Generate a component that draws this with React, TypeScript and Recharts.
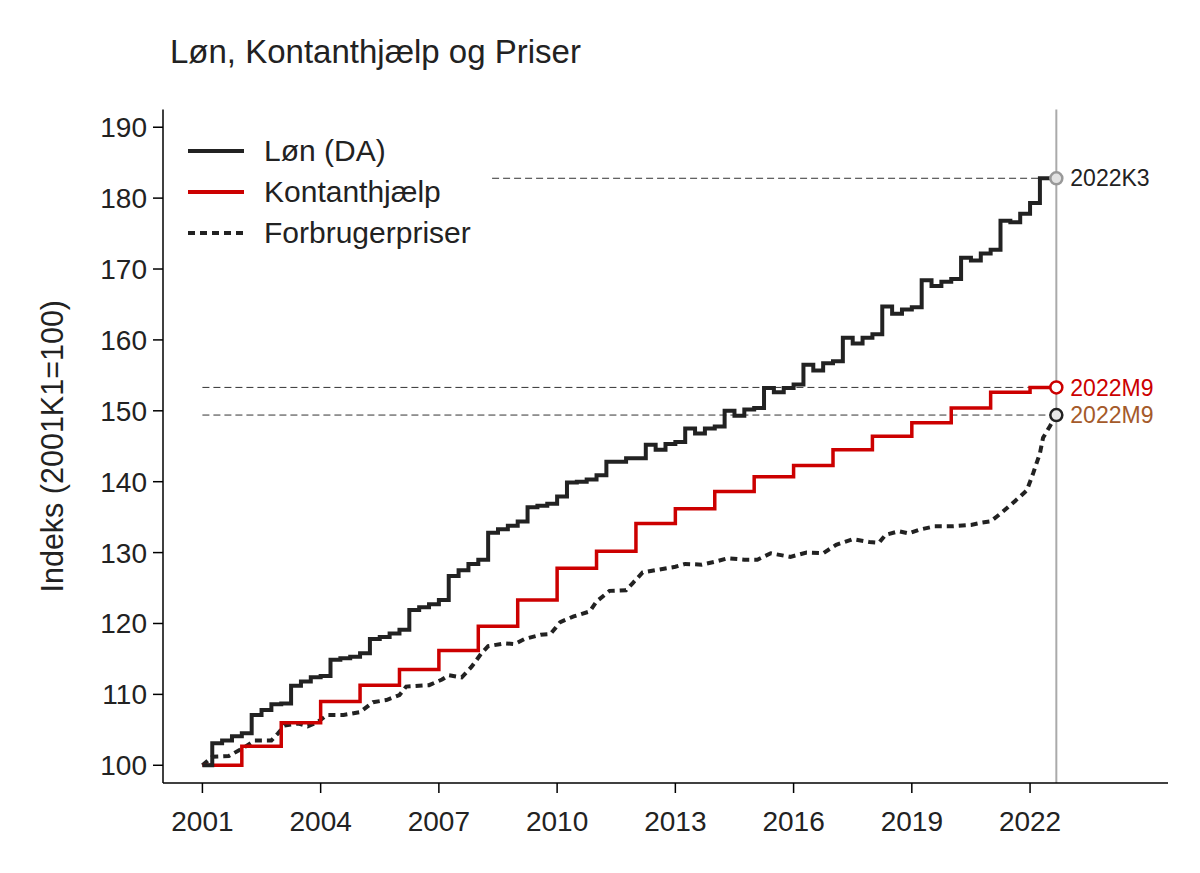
import React from "react";
import {
  LineChart,
  Line,
  XAxis,
  YAxis,
  ReferenceLine,
  ReferenceDot,
  Legend,
} from "recharts";

// Løn (DA), quarterly index 2001K1..2022K3
const LON_VALUES = [
  100.0, 103.1, 103.5, 104.1,
  104.5, 107.1, 107.8, 108.6,
  108.7, 111.2, 111.8, 112.4,
  112.6, 114.9, 115.1, 115.3,
  115.8, 117.8, 118.1, 118.6,
  119.1, 121.9, 122.3, 122.7,
  123.3, 126.7, 127.5, 128.4,
  129.0, 132.8, 133.3, 133.8,
  134.4, 136.4, 136.6, 136.9,
  137.9, 139.9, 140.0, 140.3,
  140.9, 142.8, 142.8, 143.3,
  143.3, 145.2, 144.5, 145.3,
  145.6, 147.5, 146.8, 147.5,
  147.8, 150.0, 149.3, 150.2,
  150.4, 153.2, 152.6, 153.2,
  153.7, 156.5, 155.7, 156.7,
  157.0, 160.3, 159.5, 160.3,
  160.8, 164.7, 163.7, 164.3,
  164.6, 168.4, 167.6, 168.2,
  168.6, 171.6, 171.2, 172.2,
  172.7, 176.8, 176.6, 177.8,
  179.3, 182.8, 182.8,
];

// Kontanthjælp, adjusted each January
const KONT_YEARS = [
  2001, 2002, 2003, 2004, 2005, 2006, 2007, 2008, 2009, 2010, 2011,
  2012, 2013, 2014, 2015, 2016, 2017, 2018, 2019, 2020, 2021, 2022,
];
const KONT_VALUES = [
  100.0, 102.7, 106.0, 109.0, 111.3, 113.5, 116.2, 119.6, 123.3, 127.8, 130.2,
  134.1, 136.2, 138.6, 140.7, 142.3, 144.5, 146.4, 148.3, 150.4, 152.6, 153.3,
];

// Forbrugerpriser (decimal year, index)
const CPI_X = [
  2001.0, 2001.25, 2001.67, 2002.08, 2002.33, 2002.75, 2002.92, 2003.08, 2003.42,
  2003.67, 2003.92, 2004.17, 2004.58, 2005.0, 2005.33, 2005.67, 2006.0, 2006.17,
  2006.75, 2007.08, 2007.25, 2007.58, 2007.83, 2008.08, 2008.25, 2008.67, 2008.92,
  2009.17, 2009.58, 2009.83, 2010.08, 2010.42, 2010.83, 2011.0, 2011.33, 2011.75,
  2011.92, 2012.17, 2012.58, 2013.0, 2013.25, 2013.67, 2014.0, 2014.33, 2014.75,
  2015.08, 2015.42, 2015.92, 2016.33, 2016.75, 2017.08, 2017.5, 2017.92, 2018.17,
  2018.33, 2018.67, 2018.92, 2019.17, 2019.58, 2020.0, 2020.5, 2020.75, 2021.0,
  2021.25, 2021.5, 2021.75, 2021.92, 2022.08, 2022.25, 2022.33, 2022.5, 2022.67,
];
const CPI_VALUES = [
  100.0, 101.2, 101.3, 102.6, 103.5, 103.5, 104.5, 105.6, 105.9,
  105.5, 106.1, 107.1, 107.1, 107.5, 108.9, 109.2, 109.9, 111.1,
  111.3, 112.1, 112.7, 112.4, 113.9, 115.8, 116.8, 117.2, 117.1,
  117.8, 118.4, 118.5, 120.2, 121.0, 121.7, 123.1, 124.6, 124.7,
  125.7, 127.2, 127.6, 128.0, 128.4, 128.3, 128.7, 129.2, 129.0,
  129.0, 129.9, 129.4, 130.0, 129.9, 131.1, 131.9, 131.5, 131.4,
  132.5, 133.0, 132.7, 133.2, 133.7, 133.7, 133.9, 134.2, 134.4,
  135.5, 136.7, 137.9, 138.8, 141.2, 144.0, 146.2, 147.8, 149.4,
];

const X_TICKS = [2001, 2004, 2007, 2010, 2013, 2016, 2019, 2022];
const Y_TICKS = [100, 110, 120, 130, 140, 150, 160, 170, 180, 190];

const END_X = 2022 + 8 / 12; // 2022M9
const LON_GUIDE_START = 2008.35;

const LON_END = LON_VALUES[LON_VALUES.length - 1];
const KONT_END = KONT_VALUES[KONT_VALUES.length - 1];
const CPI_END = CPI_VALUES[CPI_VALUES.length - 1];

const lonData = [
  ...LON_VALUES.map((v, i) => ({ x: 2001 + i / 4, v })),
  { x: END_X, v: LON_END },
];
const kontData = [
  ...KONT_YEARS.map((y, i) => ({ x: y, v: KONT_VALUES[i] })),
  { x: END_X, v: KONT_END },
];
const cpiData = CPI_X.map((x, i) => ({ x, v: CPI_VALUES[i] }));

const COLORS = {
  text: "#222222",
  lon: "#222222",
  kont: "#cc0000",
  cpi: "#222222",
  guide: "#333333",
  vline: "#aaaaaa",
  cpiLabel: "#a45a2a",
};

const FONT = "'Liberation Sans', Arial, Helvetica, sans-serif";

const LEGEND_ITEMS = [
  { label: "Løn (DA)", color: COLORS.lon, dash: undefined },
  { label: "Kontanthjælp", color: COLORS.kont, dash: undefined },
  { label: "Forbrugerpriser", color: COLORS.cpi, dash: "7 5" },
];

function ChartLegend() {
  return (
    <div style={{ fontFamily: FONT }}>
      {LEGEND_ITEMS.map((item) => (
        <div
          key={item.label}
          style={{ display: "flex", alignItems: "center", height: 41 }}
        >
          <svg width={56} height={10} style={{ marginRight: 20 }}>
            <line
              x1={0}
              y1={5}
              x2={56}
              y2={5}
              stroke={item.color}
              strokeWidth={4}
              strokeDasharray={item.dash}
            />
          </svg>
          <span style={{ fontSize: 30, color: COLORS.text }}>{item.label}</span>
        </div>
      ))}
    </div>
  );
}

export default function App() {
  return (
    <div
      style={{
        position: "relative",
        width: 1184,
        height: 857,
        fontFamily: FONT,
        background: "#fff",
      }}
    >
      <div
        style={{
          position: "absolute",
          left: 162,
          top: 24,
          fontSize: 33,
          lineHeight: "40px",
          color: COLORS.text,
        }}
      >
        Løn, Kontanthjælp og Priser
      </div>
      <LineChart
        width={1184}
        height={857}
        margin={{ top: 101.5, right: 24, bottom: 42, left: 75 }}
      >
        <XAxis
          dataKey="x"
          type="number"
          domain={[2000, 2025.5]}
          ticks={X_TICKS}
          allowDataOverflow
          height={40}
          tickSize={10}
          tickMargin={18}
          stroke="#000"
          strokeWidth={1.5}
          tick={{ fill: COLORS.text, fontSize: 28, fontFamily: FONT }}
        />
        <YAxis
          type="number"
          domain={[97.5, 192.5]}
          ticks={Y_TICKS}
          allowDataOverflow
          width={80}
          tickSize={10}
          tickMargin={6}
          stroke="#000"
          strokeWidth={1.5}
          tick={{ fill: COLORS.text, fontSize: 28, fontFamily: FONT }}
          label={{
            value: "Indeks (2001K1=100)",
            angle: -90,
            position: "insideLeft",
            offset: -31,
            fill: COLORS.text,
            fontSize: 30.5,
            fontFamily: FONT,
            style: { textAnchor: "middle" },
          }}
        />
        <Legend
          layout="vertical"
          align="center"
          verticalAlign="middle"
          wrapperStyle={{ top: 122, left: 180, width: "auto" }}
          content={<ChartLegend />}
        />
        <ReferenceLine
          segment={[
            { x: LON_GUIDE_START, y: LON_END },
            { x: END_X, y: LON_END },
          ]}
          stroke={COLORS.guide}
          strokeDasharray="7 4"
          strokeWidth={1}
        />
        <ReferenceLine
          segment={[
            { x: 2001, y: KONT_END },
            { x: END_X, y: KONT_END },
          ]}
          stroke={COLORS.guide}
          strokeDasharray="7 4"
          strokeWidth={1}
        />
        <ReferenceLine
          segment={[
            { x: 2001, y: CPI_END },
            { x: END_X, y: CPI_END },
          ]}
          stroke={COLORS.guide}
          strokeDasharray="7 4"
          strokeWidth={1}
        />
        <ReferenceLine x={END_X} stroke={COLORS.vline} strokeWidth={2} />
        <Line
          data={cpiData}
          dataKey="v"
          type="linear"
          stroke={COLORS.cpi}
          strokeWidth={4}
          strokeDasharray="7 5"
          dot={false}
          isAnimationActive={false}
        />
        <Line
          data={kontData}
          dataKey="v"
          type="stepAfter"
          stroke={COLORS.kont}
          strokeWidth={3.5}
          dot={false}
          isAnimationActive={false}
        />
        <Line
          data={lonData}
          dataKey="v"
          type="stepAfter"
          stroke={COLORS.lon}
          strokeWidth={4}
          dot={false}
          isAnimationActive={false}
        />
        <ReferenceDot
          x={END_X}
          y={LON_END}
          r={6}
          fill="#e2e2e2"
          stroke="#999999"
          strokeWidth={2.5}
          label={{
            value: "2022K3",
            position: "right",
            offset: 8,
            fill: COLORS.text,
            fontSize: 23,
            fontFamily: FONT,
          }}
        />
        <ReferenceDot
          x={END_X}
          y={KONT_END}
          r={6}
          fill="#ffffff"
          stroke={COLORS.kont}
          strokeWidth={2.5}
          label={{
            value: "2022M9",
            position: "right",
            offset: 8,
            fill: COLORS.kont,
            fontSize: 23,
            fontFamily: FONT,
          }}
        />
        <ReferenceDot
          x={END_X}
          y={CPI_END}
          r={6}
          fill="#e8e8e8"
          stroke={COLORS.cpi}
          strokeWidth={2.5}
          label={{
            value: "2022M9",
            position: "right",
            offset: 8,
            fill: COLORS.cpiLabel,
            fontSize: 23,
            fontFamily: FONT,
          }}
        />
      </LineChart>
    </div>
  );
}
